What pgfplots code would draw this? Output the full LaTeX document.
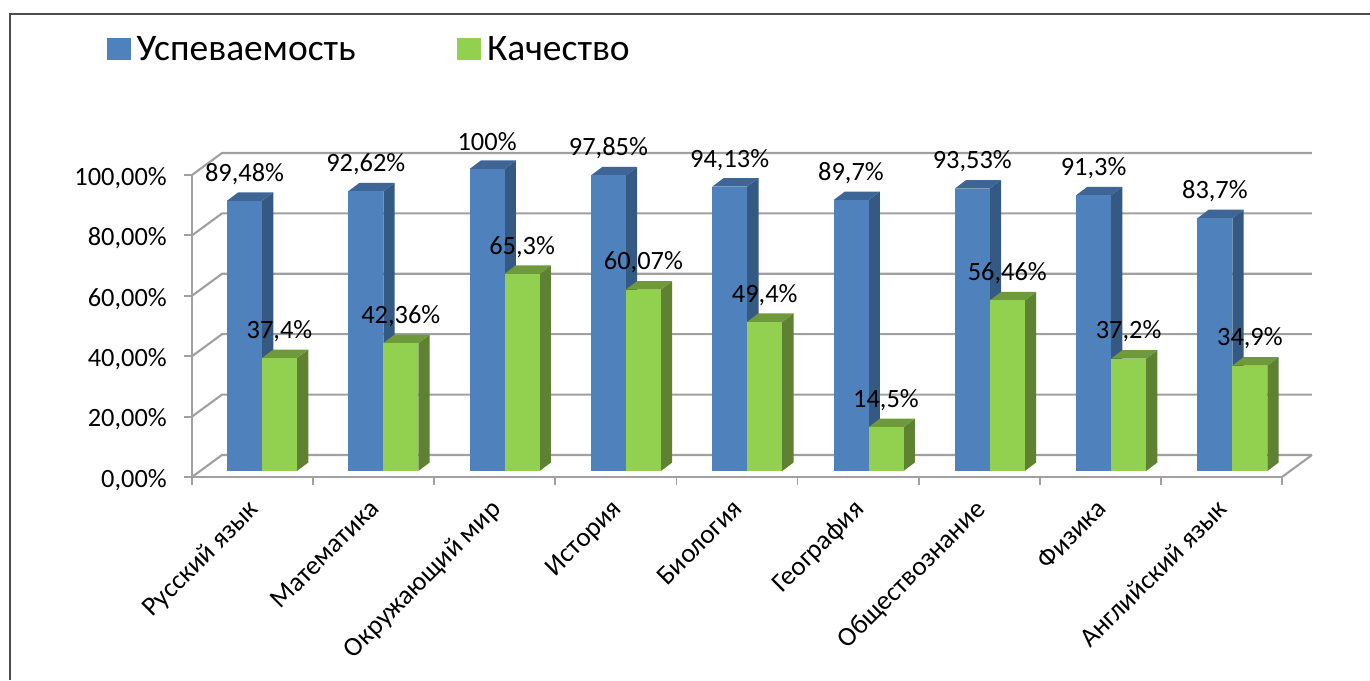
\documentclass[border=0pt]{standalone}
\usepackage{fontspec}
\setmainfont{Carlito}
\usepackage{pgfplots}
\pgfplotsset{compat=1.18}
\definecolor{gridc}{HTML}{A0A0A0}
\definecolor{bF}{HTML}{4F81BD}
\definecolor{bS}{HTML}{345A84}
\definecolor{bT}{HTML}{3D6697}
\definecolor{gF}{HTML}{92D050}
\definecolor{gS}{HTML}{5F8232}
\definecolor{gT}{HTML}{6F9A3C}
\tikzset{lab/.style={font=\fontsize{26.4}{28}\selectfont,inner sep=0pt,text=black}}
% left edge (px), value, colour prefix, label
\newcommand\Bar[4]{%
  \pgfmathsetmacro\xa{#1}%
  \pgfmathsetmacro\xb{#1+35}%
  \pgfmathsetmacro\xc{#1+46.3}%
  \pgfmathsetmacro\xd{#1+11.3}%
  \pgfmathsetmacro\xm{#1+17.5}%
  \pgfmathsetmacro\yb{8.5/3.02}%
  \pgfmathsetmacro\yt{#2+8.5/3.02}%
  \edef\temp{%
    \noexpand\addplot[fill=#3S,draw=none,forget plot] coordinates {(\xb,0) (\xc,\yb) (\xc,\yt) (\xb,#2)};
    \noexpand\addplot[fill=#3T,draw=none,forget plot] coordinates {(\xa,#2) (\xb,#2) (\xc,\yt) (\xd,\yt)};
    \noexpand\addplot[fill=#3F,draw=none,forget plot] coordinates {(\xa,0) (\xb,0) (\xb,#2) (\xa,#2)};
    \noexpand\node[lab,yshift=27pt] at (axis cs:\xm,#2) {#4};
  }\temp}
\newcommand\Wall[1]{%
  \pgfmathsetmacro\yw{#1+7.285}%
  \edef\temp{\noexpand\addplot[gridc,line width=2.1pt,forget plot] coordinates {(0,#1) (0.2477,\yw) (9.2477,\yw)};}\temp}
\begin{document}
\begin{tikzpicture}
\useasboundingbox (0pt,0pt) rectangle (1370pt,680pt);
\fill[white] (0pt,0pt) rectangle (1370pt,680pt);
\draw[color=black!70,line width=1.8pt] (10pt,0pt) -- (10pt,666pt) -- (1370pt,666pt);
\begin{axis}[
  at={(192pt,203pt)},anchor=south west,
  scale only axis,width=1090pt,height=302pt,
  xmin=0,xmax=9,ymin=0,ymax=100,clip=false,
  axis x line*=bottom,axis y line*=left,
  axis line style={-,gridc,line width=2.1pt},
  tick align=outside,
  major tick length=8pt,
  minor tick length=8pt,
  tick style={gridc,line width=1.8pt},
  ytick={0,20,40,60,80,100},
  yticklabels={0{,}00\%,20{,}00\%,40{,}00\%,60{,}00\%,80{,}00\%,100{,}00\%},
  xtick={0.5,1.5,2.5,3.5,4.5,5.5,6.5,7.5,8.5},
  xticklabels={Русский язык,Математика,Окружающий мир,История,Биология,География,Обществознание,Физика,Английский язык},
  minor xtick={0,1,2,3,4,5,6,7,8,9},
  x tick style={draw=none},
  minor x tick style={draw=gridc,line width=1.8pt},
  xticklabel style={rotate=45,anchor=north east,font=\fontsize{27}{29}\selectfont,inner sep=0pt,yshift=-5pt,xshift=-13pt},
  yticklabel style={font=\fontsize{26.4}{28}\selectfont,anchor=east,inner sep=0pt,xshift=-17pt,yshift=-3pt},
]
\Wall{0}\Wall{20}\Wall{40}\Wall{60}\Wall{80}\Wall{100}
\addplot[gridc,line width=2.1pt,forget plot] coordinates {(9,0) (9.2477,7.285)};
\end{axis}
\begin{axis}[
  at={(192pt,203pt)},anchor=south west,
  scale only axis,width=1090pt,height=302pt,
  xmin=192,xmax=1282,ymin=-1.99,ymax=98.01,clip=false,hide axis,
  legend style={at={(rel axis cs:-0.078,1.417)},anchor=west,draw=none,fill=none,inner sep=0pt,
    font=\fontsize{37.5}{39}\selectfont,
    /tikz/column 1/.style={column sep=4pt},
    /tikz/column 2/.style={column sep=99pt},
    /tikz/column 3/.style={column sep=5pt}},
  legend columns=2,
]
\Bar{227}{89.48}{b}{89,48\%}
\Bar{348.3}{92.62}{b}{92,62\%}
\Bar{469.6}{100}{b}{100\%}
\Bar{590.9}{97.85}{b}{97,85\%}
\Bar{712.2}{94.13}{b}{94,13\%}
\Bar{833.5}{89.7}{b}{89,7\%}
\Bar{954.8}{93.53}{b}{93,53\%}
\Bar{1076.1}{91.3}{b}{91,3\%}
\Bar{1197.4}{83.7}{b}{83,7\%}
\Bar{262}{37.4}{g}{37,4\%}
\Bar{383.3}{42.36}{g}{42,36\%}
\Bar{504.6}{65.3}{g}{65,3\%}
\Bar{625.9}{60.07}{g}{60,07\%}
\Bar{747.2}{49.4}{g}{49,4\%}
\Bar{868.5}{14.5}{g}{14,5\%}
\Bar{989.8}{56.46}{g}{56,46\%}
\Bar{1111.1}{37.2}{g}{37,2\%}
\Bar{1232.4}{34.9}{g}{34,9\%}
\addlegendimage{legend image code/.code={\fill[bF] (0pt,-10.5pt) rectangle (23pt,10.5pt);}}
\addlegendentry{Успеваемость}
\addlegendimage{legend image code/.code={\fill[gF] (0pt,-10.5pt) rectangle (23pt,10.5pt);}}
\addlegendentry{Качество}
\end{axis}
\end{tikzpicture}
\end{document}
